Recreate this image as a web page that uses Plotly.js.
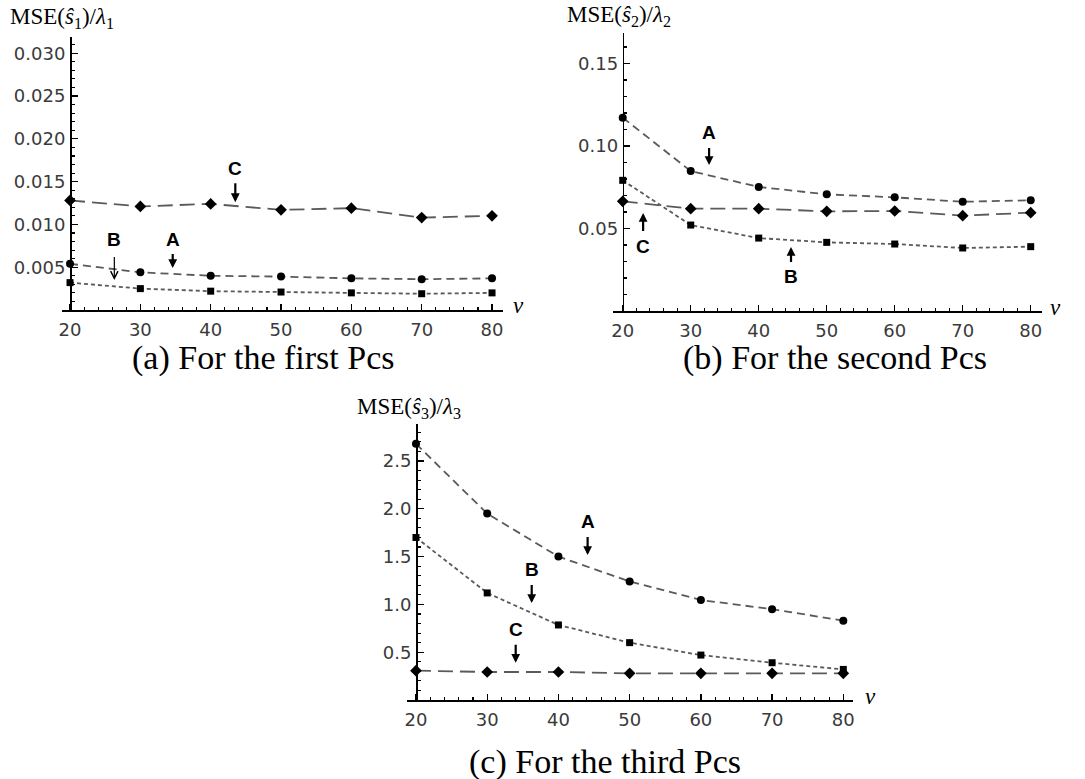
<!DOCTYPE html>
<html>
<head>
<meta charset="utf-8">
<script src="https://cdn.plot.ly/plotly-3.0.1.min.js"></script>
<style>html,body{margin:0;padding:0;background:#fff;}#chart{width:1085px;height:779px;}</style>
</head>
<body>
<div id="chart"></div>
<script>
// ---------- data ----------
const nu = [20, 30, 40, 50, 60, 70, 80];

// (a) first Pcs : MSE(s1)/lambda1
const a_A = [0.0054, 0.0044, 0.0040, 0.0039, 0.0037, 0.0036, 0.0037];
const a_B = [0.0032, 0.0025, 0.0022, 0.0021, 0.0020, 0.0019, 0.0020];
const a_C = [0.0128, 0.0121, 0.0124, 0.0117, 0.0119, 0.0108, 0.0110];

// (b) second Pcs : MSE(s2)/lambda2
const b_A = [0.1172, 0.0848, 0.0752, 0.0707, 0.0689, 0.0662, 0.0671];
const b_B = [0.0792, 0.0521, 0.0442, 0.0416, 0.0406, 0.0382, 0.0390];
const b_C = [0.0665, 0.0620, 0.0620, 0.0604, 0.0606, 0.0578, 0.0596];

// (c) third Pcs : MSE(s3)/lambda3
const c_A = [2.68, 1.95, 1.50, 1.24, 1.046, 0.95, 0.83];
const c_B = [1.70, 1.12, 0.785, 0.60, 0.47, 0.39, 0.32];
const c_C = [0.307, 0.293, 0.293, 0.279, 0.279, 0.279, 0.279];

// tick labels
const xTicks = [20, 30, 40, 50, 60, 70, 80];
const yTicksA = [0.005, 0.010, 0.015, 0.020, 0.025, 0.030];
const yTicksB = [0.05, 0.10, 0.15];
const yTicksC = [0.5, 1.0, 1.5, 2.0, 2.5];
const yTickTextA = ['0.005', '0.010', '0.015', '0.020', '0.025', '0.030'];
const yTickTextB = ['0.05', '0.10', '0.15'];
const yTickTextC = ['0.5', '1.0', '1.5', '2.0', '2.5'];

const yTitles = ['MSE(<i>ŝ</i><sub>1</sub>)/<i>λ</i><sub>1</sub>',
                 'MSE(<i>ŝ</i><sub>2</sub>)/<i>λ</i><sub>2</sub>',
                 'MSE(<i>ŝ</i><sub>3</sub>)/<i>λ</i><sub>3</sub>'];
const captions = ['(a) For the first Pcs', '(b) For the second Pcs', '(c) For the third Pcs'];
const seriesNames = ['A', 'B', 'C'];

// ---------- geometry helpers (pixels -> paper) ----------
const W = 1085, H = 779;
const px = v => v / W;
const py = v => 1 - v / H;

const panels = [
  {xs: 'x', ys: 'y', xr: [18.86, 81.56], yr: [0, 0.0319], xdom: [62, 503], ydom: [310, 37], yaxX: 70,
   ticks: yTicksA, text: yTickTextA, minor: 0.001, data: [a_A, a_B, a_C]},
  {xs: 'x2', ys: 'y2', xr: [18.57, 81.66], yr: [0, 0.1685], xdom: [613, 1042], ydom: [311, 33], yaxX: 622.7,
   ticks: yTicksB, text: yTickTextB, minor: 0.01, data: [b_A, b_B, b_C]},
  {xs: 'x3', ys: 'y3', xr: [18.74, 81.36], yr: [0, 2.887], xdom: [407, 853], ydom: [700, 424], yaxX: 416,
   ticks: yTicksC, text: yTickTextC, minor: 0.1, data: [c_A, c_B, c_C]}
];

const styles = [
  {dash: '8px,5px', symbol: 'circle', size: 8},
  {dash: '4px,3px', symbol: 'square', size: 7},
  {dash: '15px,7px', symbol: 'diamond', size: 9}
];

const traces = [];
panels.forEach(p => {
  p.data.forEach((vals, k) => {
    traces.push({
      x: nu, y: vals, xaxis: p.xs, yaxis: p.ys, type: 'scatter', mode: 'lines+markers',
      name: seriesNames[k], cliponaxis: false,
      line: {color: '#5a5a5a', width: 1.8, dash: styles[k].dash},
      marker: {color: '#000', symbol: styles[k].symbol, size: styles[k].size}
    });
  });
});

const tickFont = {family: 'DejaVu Sans', size: 18, color: '#3a3a3a'};
const layout = {
  width: W, height: H, margin: {l: 0, r: 0, t: 0, b: 0},
  paper_bgcolor: '#fff', plot_bgcolor: 'rgba(0,0,0,0)', showlegend: false,
  annotations: []
};

panels.forEach((p, i) => {
  const sfx = i === 0 ? '' : String(i + 1);
  layout['xaxis' + sfx] = {
    domain: [px(p.xdom[0]), px(p.xdom[1])], range: p.xr, anchor: p.ys,
    showline: true, linecolor: '#000', linewidth: 1.5, mirror: false,
    showgrid: false, zeroline: false,
    tickmode: 'array', tickvals: xTicks, ticktext: xTicks.map(String),
    ticks: 'inside', ticklen: 6, tickwidth: 1.3, tickcolor: '#000',
    tickfont: tickFont, ticklabelstandoff: 3,
    minor: {ticks: 'inside', ticklen: 3, tickwidth: 1.1, tickcolor: '#000', dtick: 2, tick0: 0, showgrid: false}
  };
  layout['yaxis' + sfx] = {
    domain: [py(p.ydom[0]), py(p.ydom[1])], range: p.yr, anchor: 'free', position: px(p.yaxX),
    showline: true, linecolor: '#000', linewidth: 1.5,
    showgrid: false, zeroline: false,
    tickmode: 'array', tickvals: p.ticks, ticktext: p.text,
    ticks: 'inside', ticklen: 6, tickwidth: 1.3, tickcolor: '#000',
    tickfont: tickFont, ticklabelstandoff: 1,
    minor: {ticks: 'inside', ticklen: 3, tickwidth: 1.1, tickcolor: '#000', dtick: p.minor, tick0: 0, showgrid: false}
  };
});

// y titles, nu labels, captions
const yTitlePos = [[8, 18], [565, 16], [355, 408]];
const nuPos = [[518, 305], [1055, 307], [870, 696]];
const capPos = [[263, 358], [835, 358], [605, 762]];
for (let i = 0; i < 3; i++) {
  layout.annotations.push({xref: 'paper', yref: 'paper', x: px(yTitlePos[i][0]), y: py(yTitlePos[i][1]),
    xanchor: 'left', yanchor: 'middle', showarrow: false, text: yTitles[i],
    font: {family: 'Liberation Serif', size: 23, color: '#000'}});
  layout.annotations.push({xref: 'paper', yref: 'paper', x: px(nuPos[i][0]), y: py(nuPos[i][1]),
    xanchor: 'center', yanchor: 'middle', showarrow: false, text: '<i>ν</i>',
    font: {family: 'Liberation Serif', size: 23, color: '#000'}});
  layout.annotations.push({xref: 'paper', yref: 'paper', x: px(capPos[i][0]), y: py(capPos[i][1]),
    xanchor: 'center', yanchor: 'middle', showarrow: false, text: captions[i],
    font: {family: 'Liberation Serif', size: 34, color: '#000'}});
}

// series labels with arrows: [panel, label, tipX, tipY, ay(px), thin]
const labelArrows = [
  [0, 'C', 43.5, 0.0126, -34, false],
  [0, 'A', 34.6, 0.0049, -29, false],
  [0, 'B', 26.3, 0.0035, -41, true],
  [1, 'A', 32.7, 0.0885, -32, false],
  [1, 'C', 23.0, 0.0594, 33, false],
  [1, 'B', 44.75, 0.0388, 30, false],
  [2, 'A', 44.1, 1.517, -33, false],
  [2, 'B', 36.25, 1.015, -33, false],
  [2, 'C', 34.0, 0.39, -33, false]
];
labelArrows.forEach(l => {
  const p = panels[l[0]];
  layout.annotations.push({
    xref: p.xs, yref: p.ys, x: l[2], y: l[3], ax: 0, ay: l[4], axref: 'pixel', ayref: 'pixel',
    text: '<b>' + l[1] + '</b>', showarrow: true,
    arrowhead: l[5] ? 5 : 2, arrowsize: l[5] ? 1.2 : 0.8, arrowwidth: l[5] ? 1.2 : 2.2, arrowcolor: '#000',
    startstandoff: l[5] ? 6 : 3, standoff: 0,
    font: {family: 'Liberation Sans', size: 19, color: '#000'}
  });
});

Plotly.newPlot('chart', traces, layout, {staticPlot: true, displayModeBar: false});
</script>
</body>
</html>
